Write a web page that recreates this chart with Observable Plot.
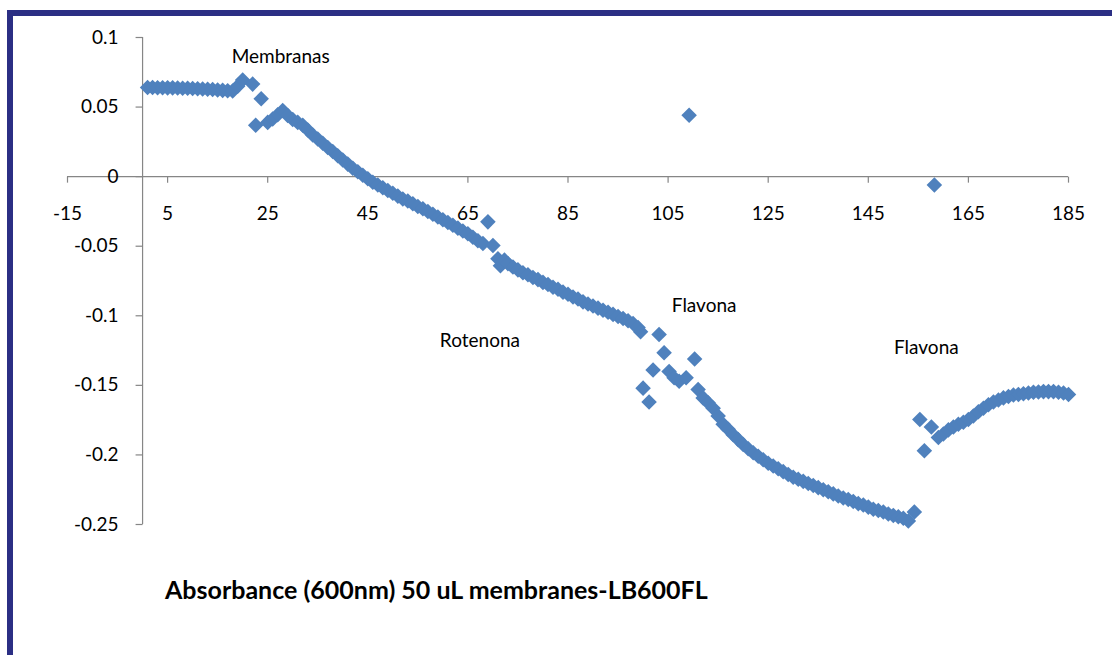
<!DOCTYPE html>
<html>
<head>
<meta charset="utf-8">
<script src="https://cdn.jsdelivr.net/npm/d3@7"></script>
<script src="https://cdn.jsdelivr.net/npm/@observablehq/plot@0.6"></script>
<style>
  html, body { margin: 0; padding: 0; background: #fff; width: 1112px; height: 655px; overflow: hidden; }
  #frame { position: absolute; left: 7px; top: 10px; width: 1200px; height: 800px;
           border-left: 6px solid #2b2f84; border-top: 6px solid #2b2f84; }
  #chart { position: absolute; left: 0; top: 0; }
  #title { position: absolute; left: 165px; top: 574px; font: bold 25px Lato, sans-serif;
           color: #000; white-space: nowrap; }
</style>
</head>
<body>
<div id="frame"></div>
<div id="chart"></div>
<div id="title">Absorbance (600nm) 50 uL membranes-LB600FL</div>
<script>
// Reading number (x) and absorbance at 600 nm (y)
const sampleX = [
  1, 2, 3, 4, 5, 6, 7, 8, 9, 10, 11, 12, 13, 14, 15, 16, 17, 18, 19, 20,
  22, 22.6, 23.7, 25, 26, 27, 28, 29, 30, 31, 32, 33, 34, 35, 36, 37, 38, 39, 40,
  41, 42, 43, 44, 45, 46, 47, 48, 49, 50, 51, 52, 53, 54, 55, 56, 57, 58, 59, 60,
  61, 62, 63, 64, 65, 66, 67, 68, 69, 70, 71, 71.5, 72.3, 73, 74, 75, 76, 77, 78, 79, 80,
  81, 82, 83, 84, 85, 86, 87, 88, 89, 90, 91, 92, 93, 94, 95, 96, 97, 98, 99, 99.5,
  100, 101.2, 102, 103.2, 104.2, 105.2, 106.2, 107.2, 108.6, 109.2, 110.3, 111,
  112, 113, 114, 115, 116, 117, 118, 119, 120, 121, 122, 123, 124, 125, 126, 127, 128, 129, 130,
  131, 132, 133, 134, 135, 136, 137, 138, 139, 140, 141, 142, 143, 144, 145, 146, 147, 148, 149, 150,
  151, 152, 153, 154.2, 155.3, 156.2, 157.6, 158.2, 159, 160,
  161, 162, 163, 164, 165, 166, 167, 168, 169, 170, 171, 172, 173, 174, 175, 176, 177, 178, 179, 180,
  181, 182, 183, 184, 185
];
const absorbance = [
  0.0640, 0.0640, 0.0639, 0.0639, 0.0638, 0.0638, 0.0637, 0.0636, 0.0635, 0.0634,
  0.0632, 0.0630, 0.0628, 0.0626, 0.0623, 0.0620, 0.0617, 0.0615, 0.0650, 0.0695,
  0.0665, 0.0370, 0.0560, 0.0390, 0.0415, 0.0445, 0.0475, 0.0440, 0.0410, 0.0390,
  0.0370, 0.0335, 0.0300, 0.0270, 0.0240, 0.0210, 0.0180, 0.0150, 0.0120,
  0.0090, 0.0060, 0.0035, 0.0010, -0.0015, -0.0040, -0.0060, -0.0080, -0.0100, -0.0120,
  -0.0140, -0.0160, -0.0175, -0.0195, -0.0215, -0.0230, -0.0250, -0.0270, -0.0290, -0.0310,
  -0.0330, -0.0350, -0.0370, -0.0390, -0.0410, -0.0435, -0.0460, -0.0480, -0.0325, -0.0495,
  -0.0590, -0.0640, -0.0600, -0.0625, -0.0650, -0.0670, -0.0690, -0.0705, -0.0725, -0.0740, -0.0760,
  -0.0775, -0.0795, -0.0810, -0.0830, -0.0845, -0.0865, -0.0880, -0.0900, -0.0915, -0.0930,
  -0.0945, -0.0960, -0.0975, -0.0990, -0.1005, -0.1020, -0.1035, -0.1055, -0.1085, -0.1115,
  -0.1520, -0.1620, -0.1390, -0.1135, -0.1265, -0.1400, -0.1445, -0.1470, -0.1445, 0.0441, -0.1310, -0.1530,
  -0.1590, -0.1625, -0.1665, -0.1720, -0.1780, -0.1815, -0.1855, -0.1890, -0.1925,
  -0.1955, -0.1985, -0.2010, -0.2035, -0.2060, -0.2080, -0.2100, -0.2120, -0.2140, -0.2160,
  -0.2175, -0.2190, -0.2205, -0.2220, -0.2235, -0.2250, -0.2265, -0.2280, -0.2295, -0.2310,
  -0.2320, -0.2335, -0.2350, -0.2360, -0.2375, -0.2390, -0.2400, -0.2410, -0.2425, -0.2435,
  -0.2445, -0.2455, -0.2475, -0.2410, -0.1745, -0.1970, -0.1800, -0.0060, -0.1875, -0.1850,
  -0.1820, -0.1800, -0.1780, -0.1765, -0.1745, -0.1720, -0.1690, -0.1665, -0.1640, -0.1620,
  -0.1605, -0.1590, -0.1580, -0.1570, -0.1565, -0.1560, -0.1555, -0.1550, -0.1548, -0.1545,
  -0.1545, -0.1545, -0.1550, -0.1555, -0.1565
];

// Axis ticks
const xTicks = [-15, 5, 25, 45, 65, 85, 105, 125, 145, 165, 185];
const yTicks = [0.1, 0.05, 0, -0.05, -0.1, -0.15, -0.2, -0.25];
const yTickLabels = ["0.1", "0.05", "0", "-0.05", "-0.1", "-0.15", "-0.2", "-0.25"];

// Annotations placed in data space
const noteLabels = ["Membranas", "Rotenona", "Flavona", "Flavona"];
const noteX = [27.6, 67.4, 112.2, 156.6];
const noteY = [0.0859, -0.1183, -0.0931, -0.1233];

const points = sampleX.map((x, i) => ({x, y: absorbance[i]}));
const notes = noteLabels.map((label, i) => ({label, x: noteX[i], y: noteY[i]}));

const axisGray = "#868686";
const markerBlue = "#4f81bd";
// short tick strokes drawn as custom symbols
const tickDown = {draw(ctx) { ctx.moveTo(0, 0); ctx.lineTo(0, 6); }};
const tickLeft = {draw(ctx) { ctx.moveTo(0, 0); ctx.lineTo(-7, 0); }};

const chart = Plot.plot({
  width: 1112,
  height: 560,
  marginLeft: 67,
  marginRight: 44,
  marginTop: 37,
  marginBottom: 36,
  x: {domain: [xTicks[0], xTicks[xTicks.length - 1]], axis: null},
  y: {domain: [yTicks[yTicks.length - 1], yTicks[0]], axis: null},
  style: {background: "transparent", fontFamily: "Lato, sans-serif", fontSize: "19px", color: "#000", overflow: "visible"},
  marks: [
    Plot.ruleY([0], {x1: xTicks[0], x2: xTicks[xTicks.length - 1], stroke: axisGray, strokeWidth: 1.2}),
    Plot.ruleX([0], {y1: yTicks[yTicks.length - 1], y2: yTicks[0], stroke: axisGray, strokeWidth: 1.2}),
    Plot.dot(xTicks, {x: d => d, y: 0, symbol: tickDown, stroke: axisGray, strokeWidth: 1.2, fill: "none"}),
    Plot.dot(yTicks, {x: 0, y: d => d, symbol: tickLeft, stroke: axisGray, strokeWidth: 1.2, fill: "none"}),
    Plot.text(xTicks, {x: d => d, y: 0, dy: 37, text: d => String(d), fill: "#000"}),
    Plot.text(yTicks, {x: 0, y: d => d, dx: -24, textAnchor: "end", text: (d, i) => yTickLabels[i], fill: "#000"}),
    Plot.dot(points, {x: "x", y: "y", symbol: "diamond2", r: 7, fill: markerBlue, stroke: "none"}),
    Plot.text(notes, {x: "x", y: "y", text: "label", fontSize: 19, fill: "#000"})
  ]
});
document.getElementById("chart").append(chart);
</script>
</body>
</html>
